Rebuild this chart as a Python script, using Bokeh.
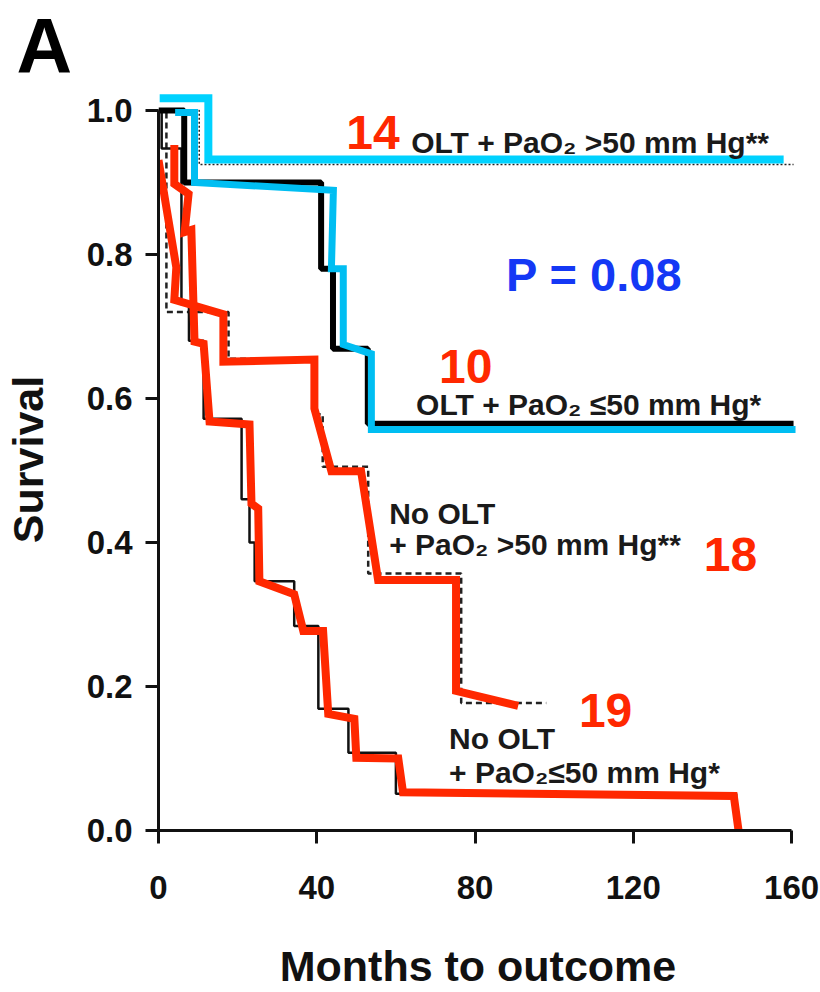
from bokeh.plotting import figure
from bokeh.models import Label, FixedTicker, PrintfTickFormatter
from bokeh.embed import file_html
from bokeh.resources import INLINE

# ---------------- data ----------------
x_ticks = [0, 40, 80, 120, 160]
y_ticks = [0.0, 0.2, 0.4, 0.6, 0.8, 1.0]

# Kaplan-Meier step curves (event time in months, survival after the step)
olt_hi_t = [0, 10.3, 160.5]
olt_hi_s = [1.0, 0.925, 0.925]

olt_lo_t = [0, 6.5, 41.1, 44.1, 52.9, 160.5]
olt_lo_s = [1.0, 0.9, 0.78, 0.669, 0.565, 0.565]

noolt_hi_t = [0, 2.0, 17.7, 39.4, 41.5, 53.0, 76.5, 98.0]
noolt_hi_s = [1.0, 0.72, 0.655, 0.578, 0.505, 0.357, 0.177, 0.177]

noolt_lo_t = [0, 0.8, 5.8, 7.7, 11.4, 21.0, 23.0, 24.3, 34.3, 40.4, 48.0, 60.0, 146.0]
noolt_lo_s = [1.0, 0.947, 0.73, 0.68, 0.572, 0.46, 0.40, 0.346, 0.284, 0.169, 0.108, 0.051, 0.0]

# hand-drawn coloured traces (months, survival)
cyan_hi_x = [0.3, 12.6, 12.6, 158.0]
cyan_hi_y = [1.017, 1.017, 0.932, 0.932]

cyan_lo_x = [4.2, 9.1, 9.1, 44.2, 43.7, 46.7, 46.7, 53.8, 53.8, 161.0]
cyan_lo_y = [0.997, 0.997, 0.900, 0.889, 0.780, 0.780, 0.675, 0.662, 0.557, 0.557]

red_hi_x = [0, 4.5, 4.0, 16.4, 16.4, 39.4, 39.4, 43.7, 51.2, 55.5, 75.2, 75.2, 90.9]
red_hi_y = [0.931, 0.782, 0.737, 0.717, 0.651, 0.654, 0.586, 0.499, 0.499, 0.348, 0.348, 0.194, 0.173]

red_lo_x = [4.0, 4.0, 7.6, 6.6, 8.3, 9.1, 11.4, 12.9, 23.0, 23.5, 25.2, 25.5, 34.3, 36.6,
            41.6, 42.9, 49.5, 50.0, 60.6, 61.8, 145.4, 146.6]
red_lo_y = [0.952, 0.898, 0.884, 0.831, 0.834, 0.679, 0.676, 0.568, 0.564, 0.454, 0.447, 0.346,
            0.328, 0.277, 0.277, 0.162, 0.155, 0.101, 0.100, 0.053, 0.048, 0.0]

RED = "#FF2800"
CYAN1 = "#00D2FF"
CYAN2 = "#00BEF2"
BLUE = "#1438F5"
FONT = "Liberation Sans"

p = figure(width=820, height=992, x_range=(0, 161.5), y_range=(0, 744 / 722),
           output_backend="svg", toolbar_location=None,
           min_border_left=157, min_border_right=23, min_border_top=86, min_border_bottom=162)
p.outline_line_color = None
p.grid.visible = False
p.background_fill_color = "white"
p.border_fill_color = "white"

# panel letter as the title
p.title.text = "A"
p.title.align = "left"
p.title.offset = -142
p.title.standoff = 0
p.title.text_font = FONT
p.title.text_font_size = "77px"
p.title.text_font_style = "bold"
p.title.text_color = "#000000"

for ax in (p.xaxis[0], p.yaxis[0]):
    ax.axis_line_width = 3
    ax.axis_line_color = "#111111"
    ax.major_tick_line_width = 3
    ax.major_tick_line_color = "#111111"
    ax.major_tick_out = 13
    ax.major_tick_in = 0
    ax.minor_tick_line_color = None
    ax.major_label_text_font = FONT
    ax.major_label_text_font_style = "bold"
    ax.major_label_text_font_size = "33px"
    ax.major_label_text_color = "#111111"
    ax.axis_label_text_font = FONT
    ax.axis_label_text_font_style = "bold"
    ax.axis_label_text_font_size = "43px"
    ax.axis_label_text_color = "#111111"

p.xaxis.ticker = FixedTicker(ticks=x_ticks)
p.yaxis.ticker = FixedTicker(ticks=y_ticks)
p.yaxis.formatter = PrintfTickFormatter(format="%.1f")
p.xaxis.bounds = (0, 160)
p.yaxis.bounds = (0, 1)
p.xaxis.major_label_standoff = 32
p.yaxis.major_label_standoff = 13
p.xaxis.axis_label = "Months to outcome"
p.yaxis.axis_label = "Survival"
p.xaxis.axis_label_standoff = 40
p.xaxis.axis_label_text_line_height = 0.7
p.yaxis.axis_label_standoff = 32

# black KM curves
p.step(olt_hi_t, olt_hi_s, mode="after", line_color="#222222", line_width=1.5, line_dash="2 2")
p.step(noolt_hi_t, noolt_hi_s, mode="after", line_color="#222222", line_width=2.5, line_dash="6 4")
p.step(noolt_lo_t, noolt_lo_s, mode="after", line_color="#111111", line_width=2.5)
p.step(olt_lo_t, olt_lo_s, mode="after", line_color="#000000", line_width=6)

# coloured traces
p.line(cyan_hi_x, cyan_hi_y, line_color=CYAN1, line_width=8, line_join="miter")
p.line(cyan_lo_x, cyan_lo_y, line_color=CYAN2, line_width=7, line_join="miter")
p.line(red_hi_x, red_hi_y, line_color=RED, line_width=8, line_join="miter")
p.line(red_lo_x, red_lo_y, line_color=RED, line_width=8, line_join="miter")

def px_x(v):
    return (v - 157) / 3.9625

def px_y(v):
    return (830 - v) / 722

def lab(text, x, y, size, color="#1a1a1a", style="bold"):
    p.add_layout(Label(x=px_x(x), y=px_y(y), text=text, text_font=FONT, text_font_size=size,
                       text_font_style=style, text_color=color, text_align="left",
                       text_baseline="alphabetic"))

lab("14", 345, 130, "48px", color=RED)
lab("OLT + PaO\u2082 >50 mm Hg**", 410, 140, "30px")
lab("P = 0.08", 505, 272, "47px", color=BLUE)
lab("10", 438, 365, "48px", color=RED)
lab("OLT + PaO\u2082 \u226450 mm Hg*", 415, 403, "30px")
lab("No OLT", 388, 512, "30px")
lab("+ PaO\u2082 >50 mm Hg**", 388, 543, "30px")
lab("18", 703, 553, "48px", color=RED)
lab("19", 578, 710, "48px", color=RED)
lab("No OLT", 448, 738, "30px")
lab("+ PaO\u2082\u226450 mm Hg*", 448, 772, "30px")

open("out.html", "w").write(file_html(p, INLINE))
